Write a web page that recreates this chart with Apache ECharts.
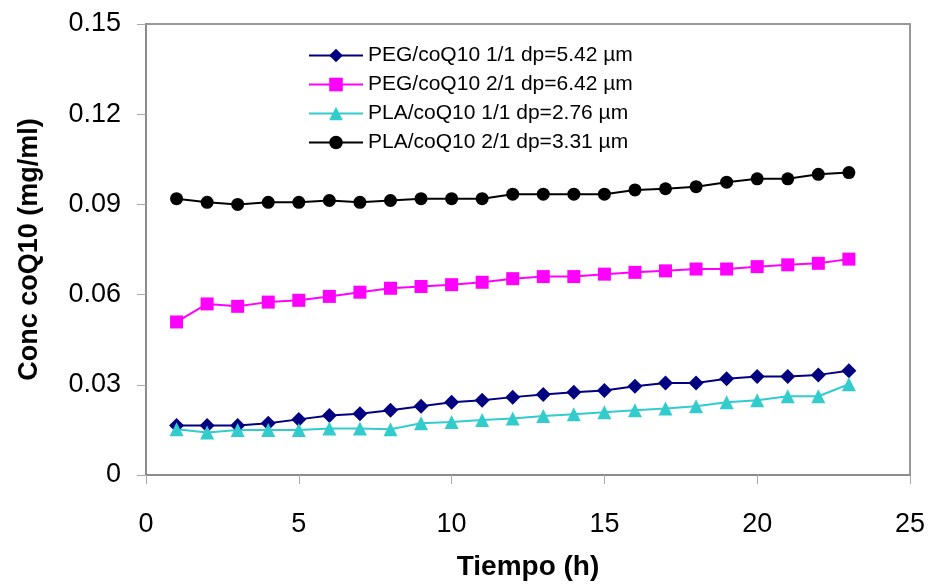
<!DOCTYPE html>
<html>
<head>
<meta charset="utf-8">
<script src="https://cdn.jsdelivr.net/npm/echarts@6/dist/echarts.min.js"></script>
<style>html,body{margin:0;padding:0;background:#fff}#c{width:930px;height:586px}</style>
</head>
<body>
<div id="c"></div>
<script>
var hours = [1,2,3,4,5,6,7,8,9,10,11,12,13,14,15,16,17,18,19,20,21,22,23];
var seriesNames = [
  'PEG/coQ10 1/1 dp=5.42 µm',
  'PEG/coQ10 2/1 dp=6.42 µm',
  'PLA/coQ10 1/1 dp=2.76 µm',
  'PLA/coQ10 2/1 dp=3.31 µm'
];
var peg11 = [0.0165,0.0165,0.0165,0.0172,0.0185,0.0198,0.0204,0.0215,0.0229,0.0242,0.0249,0.0259,0.0268,0.0275,0.0281,0.0295,0.0306,0.0306,0.0320,0.0328,0.0328,0.0333,0.0347];
var peg21 = [0.0509,0.0569,0.0561,0.0575,0.0581,0.0594,0.0608,0.0621,0.0627,0.0633,0.0641,0.0653,0.0660,0.0660,0.0668,0.0674,0.0679,0.0685,0.0685,0.0693,0.0699,0.0704,0.0718];
var pla11 = [0.0152,0.0141,0.0150,0.0150,0.0150,0.0155,0.0155,0.0152,0.0172,0.0176,0.0183,0.0188,0.0196,0.0202,0.0209,0.0215,0.0221,0.0229,0.0242,0.0249,0.0262,0.0262,0.0302];
var pla21 = [0.0919,0.0907,0.0900,0.0907,0.0907,0.0913,0.0907,0.0913,0.0919,0.0919,0.0919,0.0934,0.0934,0.0934,0.0934,0.0948,0.0952,0.0959,0.0974,0.0985,0.0985,0.1000,0.1006];
var xTicks = [0,5,10,15,20,25];
var yTicks = [0,0.03,0.06,0.09,0.12,0.15];

function pairs(vals){ return hours.map(function(h,i){ return [h, vals[i]]; }); }

var FONT = 'Liberation Sans, Arial, sans-serif';
var chart = echarts.init(document.getElementById('c'), null, {renderer:'canvas'});

function mk(name, vals, color, symbol, size){
  return {
    name: name, type: 'line', data: pairs(vals),
    symbol: symbol, symbolSize: size,
    lineStyle: {color: color, width: 2},
    itemStyle: {color: color},
    animation: false
  };
}

chart.setOption({
  backgroundColor: '#fff',
  animation: false,
  grid: {left: 146, right: 20, top: 24, bottom: 106, show: true, borderColor: '#999', borderWidth: 2, backgroundColor: 'transparent'},
  legend: {
    orient: 'vertical', left: 303, top: 40,
    itemWidth: 54, itemHeight: 17, itemGap: 8,
    textStyle: {fontFamily: FONT, fontSize: 21, lineHeight: 21, color: '#000'},
    data: seriesNames
  },
  xAxis: {
    type: 'value', min: xTicks[0], max: xTicks[xTicks.length-1], interval: 5,
    name: 'Tiempo (h)', nameLocation: 'middle', nameGap: 78,
    nameTextStyle: {fontFamily: FONT, fontSize: 28, fontWeight: 'bold', color: '#000'},
    axisLine: {show: true, lineStyle: {color: '#8c8c8c', width: 2}},
    axisTick: {show: true, inside: false, length: 9, lineStyle: {color: '#aaa', width: 1}},
    axisLabel: {fontFamily: FONT, fontSize: 27, color: '#000', margin: 36},
    splitLine: {show: false}
  },
  yAxis: {
    type: 'value', min: yTicks[0], max: yTicks[yTicks.length-1], interval: 0.03,
    name: 'Conc coQ10 (mg/ml)', nameLocation: 'middle', nameGap: 103, nameRotate: 90,
    nameTextStyle: {fontFamily: FONT, fontSize: 27, fontWeight: 'bold', color: '#000'},
    axisLine: {show: true, lineStyle: {color: '#8c8c8c', width: 2}},
    axisTick: {show: true, inside: false, length: 9, lineStyle: {color: '#aaa', width: 1}},
    axisLabel: {fontFamily: FONT, fontSize: 27, color: '#000', margin: 25,
      formatter: function(v){ return v === 0 ? '0' : v.toFixed(2); }},
    splitLine: {show: false}
  },
  series: [
    mk(seriesNames[0], peg11, '#000080', 'diamond', 15),
    mk(seriesNames[1], peg21, '#ff00ff', 'rect', 13),
    mk(seriesNames[2], pla11, '#33cccc', 'triangle', 14),
    mk(seriesNames[3], pla21, '#000000', 'circle', 13)
  ]
});
</script>
</body>
</html>
